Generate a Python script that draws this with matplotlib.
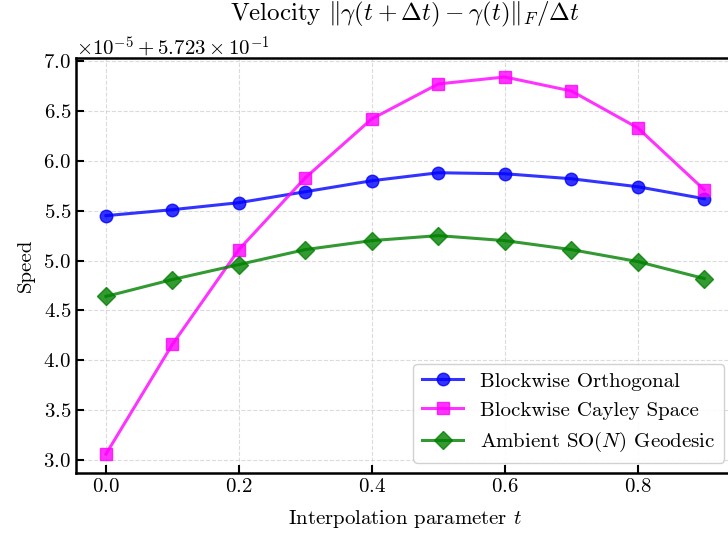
import numpy as np
import matplotlib
matplotlib.use("Agg")
import matplotlib.pyplot as plt
from matplotlib.ticker import ScalarFormatter

plt.rcParams['font.family'] = 'serif'
plt.rcParams['font.serif'] = ['cmr10']
plt.rcParams['mathtext.fontset'] = 'cm'
plt.rcParams['axes.unicode_minus'] = False
plt.rcParams['axes.formatter.use_mathtext'] = True

# values shown on the axis are (speed - 0.5723) / 1e-5
OFFSET = 0.5723
t = [0.0, 0.1, 0.2, 0.3, 0.4, 0.5, 0.6, 0.7, 0.8, 0.9]
orth = [5.45, 5.51, 5.58, 5.69, 5.80, 5.88, 5.87, 5.82, 5.74, 5.62]
cayley = [3.06, 4.16, 5.11, 5.83, 6.42, 6.77, 6.84, 6.70, 6.33, 5.71]
ambient = [4.64, 4.81, 4.96, 5.11, 5.20, 5.25, 5.20, 5.11, 4.99, 4.82]


def to_speed(v):
    return OFFSET + np.array(v) * 1e-5


class OffsetFmt(ScalarFormatter):
    # same as the usual offset, just with spaces around the plus sign
    def get_offset(self):
        return r'$\times10^{-5} + 5.723\times10^{-1}$'


fig = plt.figure(figsize=(7.28, 5.38), dpi=100)
ax = fig.add_axes([0.1044, 0.1208, 0.904, 0.7712])

ax.plot(t, to_speed(orth), '-o', color='blue', alpha=0.8, lw=2.2, ms=9,
        label='Blockwise Orthogonal')
ax.plot(t, to_speed(cayley), '-s', color='magenta', alpha=0.8, lw=2.2, ms=9,
        label='Blockwise Cayley Space')
ax.plot(t, to_speed(ambient), '-D', color='green', alpha=0.8, lw=2.2, ms=9,
        label=r'Ambient SO$(N)$ Geodesic')

fmt = OffsetFmt(useOffset=OFFSET, useMathText=True)
fmt.set_powerlimits((0, 0))
ax.yaxis.set_major_formatter(fmt)
ax.yaxis.get_offset_text().set_fontsize(15)

ax.set_title(r'Velocity $\|\gamma(t+\Delta t) - \gamma(t)\|_F/\Delta t$',
             fontsize=18, y=1.09, pad=0)
ax.set_xlabel(r'Interpolation parameter $t$', fontsize=15, labelpad=9)
ax.set_ylabel('Speed', fontsize=15, labelpad=6)

ax.grid(True, linestyle='--', color='#cccccc', alpha=0.7, lw=0.8)
ax.tick_params(direction='in', length=6, width=1.5, labelsize=15)
for s in ax.spines.values():
    s.set_linewidth(1.8)

ax.legend(loc='lower right', fontsize=15, framealpha=0.9, edgecolor='#cccccc')

fig.savefig('out.png', dpi=100)
